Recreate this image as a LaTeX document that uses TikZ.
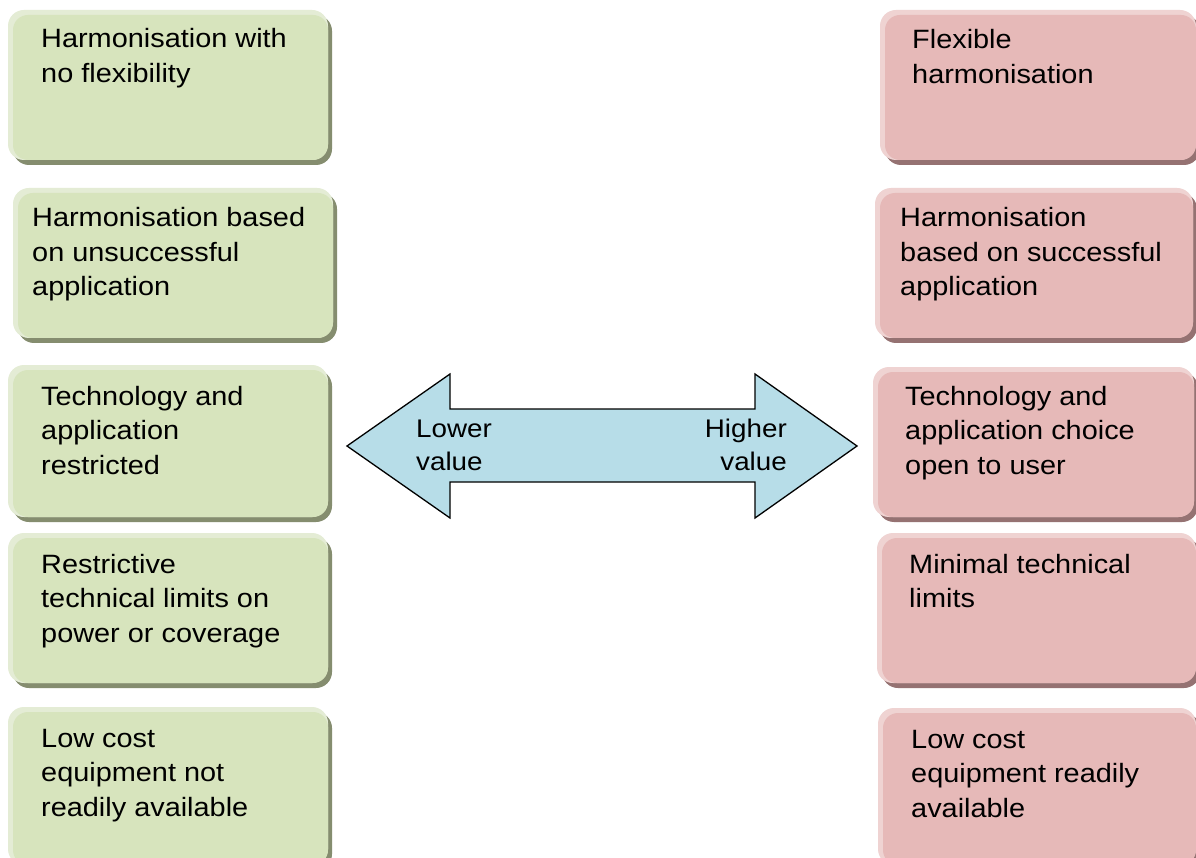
\documentclass[tikz,border=0pt]{standalone}
\usepackage{fontspec}
\setmainfont[FakeStretch=1.09]{Liberation Sans}
\definecolor{gface}{HTML}{D7E4BD}
\definecolor{glight}{HTML}{E4ECD5}
\definecolor{gshade}{HTML}{858D6F}
\definecolor{rface}{HTML}{E6B9B8}
\definecolor{rlight}{HTML}{EFD3D2}
\definecolor{rshade}{HTML}{957272}
\definecolor{arrowfill}{HTML}{B7DDE8}
% bevelled box: #1 colour prefix, (#2,#3) top-left, (#4,#5) bottom-right
\newcommand{\bevelbox}[5]{%
  \fill[#1shade, rounded corners=16pt] ({#2+5},{#3+5}) rectangle (#4,#5);
  \fill[#1light, rounded corners=16pt] (#2,#3) rectangle ({#4-4},{#5-5});
  \fill[#1face, rounded corners=15pt] ({#2+5},{#3+5}) rectangle ({#4-4},{#5-5});
}
% text nodes are placed by the baseline of their last line
\tikzset{
  boxtext/.style={anchor=base west, align=left, inner sep=0pt,
    font=\fontsize{26.5}{34.5}\selectfont},
  arrowtext/.style={inner sep=0pt, font=\fontsize{25.5}{33}\selectfont},
  valuearrow/.style={draw=black, line width=1.3pt, fill=arrowfill, line join=miter}
}
\begin{document}
\begin{tikzpicture}[x=1pt, y=-1pt]
\useasboundingbox (0,0) rectangle (1196,858);
\clip (0,0) rectangle (1196,858);
\fill[white] (0,0) rectangle (1196,858);

% left column
\bevelbox{g}{8}{10}{332}{165}
\bevelbox{g}{13}{188}{337}{343}
\bevelbox{g}{8}{365}{332}{522}
\bevelbox{g}{8}{533}{332}{688}
\bevelbox{g}{8}{707}{332}{870}
\node[boxtext] (l1) at (41,82.5) {Harmonisation with\\no flexibility};
\node[boxtext] (l2) at (32,296) {Harmonisation based\\on unsuccessful\\application};
\node[boxtext] (l3) at (41,474) {Technology and\\application\\restricted};
\node[boxtext] (l4) at (41,642) {Restrictive\\technical limits on\\power or coverage};
\node[boxtext] (l5) at (41,816) {Low cost\\equipment not\\readily available};

% right column
\bevelbox{r}{880}{10}{1200}{165}
\bevelbox{r}{875}{188}{1197}{343}
\bevelbox{r}{873}{367}{1198}{522}
\bevelbox{r}{877}{533}{1200}{688}
\bevelbox{r}{878}{708}{1200}{870}
\node[boxtext] (r1) at (912,83.5) {Flexible\\harmonisation};
\node[boxtext] (r2) at (900,296) {Harmonisation\\based on successful\\application};
\node[boxtext] (r3) at (905,474) {Technology and\\application choice\\open to user};
\node[boxtext] (r4) at (909,607.5) {Minimal technical\\limits};
\node[boxtext] (r5) at (911,817) {Low cost\\equipment readily\\available};

% double-headed value arrow
\draw[valuearrow] (347,446) -- (450,374) -- (450,409) -- (755,409) -- (755,374)
  -- (857,446) -- (755,518) -- (755,482) -- (450,482) -- (450,518) -- cycle;
\node[arrowtext, anchor=base west, align=left] (lower) at (416,470) {Lower\\value};
\node[arrowtext, anchor=base east, align=right] (higher) at (787,470) {Higher\\value};
\end{tikzpicture}
\end{document}
